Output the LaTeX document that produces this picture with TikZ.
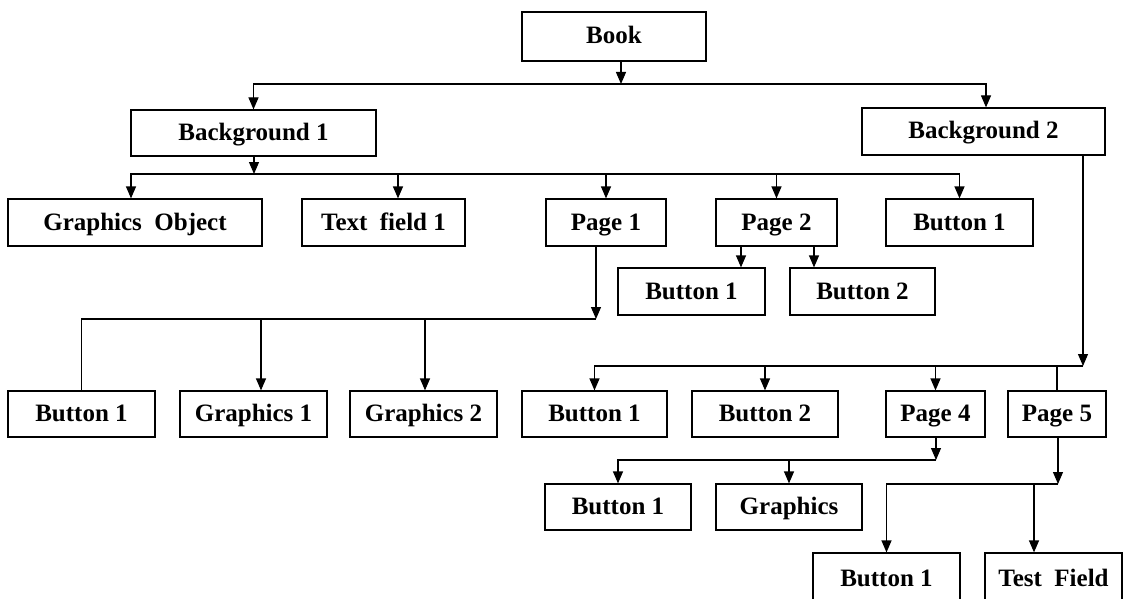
\documentclass[tikz,border=0pt]{standalone}
\usepackage{fontspec}
\setmainfont{Liberation Serif}
\usetikzlibrary{arrows.meta}
\begin{document}
\begin{tikzpicture}[x=1pt,y=-1pt,
  box/.style={draw, line width=1.2pt, inner sep=0pt, minimum height=46pt,
    text height=16pt, text depth=1pt,
    font=\fontsize{25}{28}\selectfont\bfseries},
  arr/.style={line width=1.2pt, -{Triangle[length=12pt,width=10pt]}},
  ln/.style={line width=1.2pt}]
\useasboundingbox (0,0) rectangle (1124,599);
% nodes
\node[box, minimum width=184pt, minimum height=49pt] (book) at (614,36.5) {Book};
\node[box, minimum width=245pt] (bg1) at (253.5,133) {Background 1};
\node[box, minimum width=243pt, minimum height=47pt] (bg2) at (983.5,131.5) {Background 2};
\node[box, minimum width=254pt, minimum height=47pt] (go) at (135,222.5) {Graphics\ \ Object};
\node[box, minimum width=163pt, minimum height=47pt] (tf1) at (383.5,222.5) {Text\ \ field 1};
\node[box, minimum width=120pt, minimum height=47pt] (p1) at (606,222.5) {Page 1};
\node[box, minimum width=121pt, minimum height=47pt] (p2) at (776.5,222.5) {Page 2};
\node[box, minimum width=147pt, minimum height=47pt] (bt1) at (959.5,222.5) {Button 1};
\node[box, minimum width=147pt, minimum height=47pt] (pb1) at (691.5,291.5) {Button 1};
\node[box, minimum width=145pt, minimum height=47pt] (pb2) at (862.5,291.5) {Button 2};
\node[box, minimum width=147pt] (b1a) at (81.5,414) {Button 1};
\node[box, minimum width=147pt] (g1) at (253.5,414) {Graphics 1};
\node[box, minimum width=147pt] (g2) at (423.5,414) {Graphics 2};
\node[box, minimum width=145pt] (b1b) at (594.5,414) {Button 1};
\node[box, minimum width=146pt] (b2b) at (765,414) {Button 2};
\node[box, minimum width=99pt] (p4) at (935.5,414) {Page 4};
\node[box, minimum width=98pt] (p5) at (1057,414) {Page 5};
\node[box, minimum width=146pt] (b1c) at (618,507) {Button 1};
\node[box, minimum width=146pt] (gr) at (789,507) {Graphics};
\node[box, minimum width=147pt, minimum height=52pt] (b1d) at (886.5,579) {Button 1};
\node[box, minimum width=137pt, minimum height=52pt] (tfd) at (1053.5,579) {Test\ \ Field};
% junctions
\coordinate (J1) at (621,84);
\coordinate (J2) at (254,174);
\coordinate (J3) at (596,319);
\coordinate (J4) at (1083,366);
\coordinate (J5) at (936,460);
\coordinate (J6) at (1058,484);
% Book
\draw[arr] (book.south -| J1) -- (J1);
\draw[arr] (J1) -| (bg1.north);
\draw[arr] (J1) -| ([xshift=2.5pt]bg2.north);
% Background 1
\draw[arr] (bg1.south -| J2) -- (J2);
\draw[arr] (J2) -| ([xshift=-4pt]go.north);
\draw[arr] ([xshift=14.5pt]tf1.north |- J2) -- ([xshift=14.5pt]tf1.north);
\draw[arr] (p1.north |- J2) -- (p1.north);
\draw[arr] (p2.north |- J2) -- (p2.north);
\draw[arr] (J2) -| (bt1.north);
% Page 2
\draw[arr] ([xshift=49.5pt]pb1.north |- p2.south) -- ([xshift=49.5pt]pb1.north);
\draw[arr] ([xshift=-48.5pt]pb2.north |- p2.south) -- ([xshift=-48.5pt]pb2.north);
% Page 1
\draw[arr] (p1.south -| J3) -- (J3);
\draw[ln] (J3) -| (b1a.north);
\draw[arr] ([xshift=7.5pt]g1.north |- J3) -- ([xshift=7.5pt]g1.north);
\draw[arr] ([xshift=1.5pt]g2.north |- J3) -- ([xshift=1.5pt]g2.north);
% Background 2
\draw[arr] (bg2.south -| J4) -- (J4);
\draw[arr] (J4) -| (b1b.north);
\draw[arr] (b2b.north |- J4) -- (b2b.north);
\draw[arr] (p4.north |- J4) -- (p4.north);
\draw[ln] (p5.north |- J4) -- (p5.north);
% Page 4
\draw[arr] (p4.south -| J5) -- (J5);
\draw[arr] (J5) -| (b1c.north);
\draw[arr] (gr.north |- J5) -- (gr.north);
% Page 5
\draw[arr] (p5.south -| J6) -- (J6);
\draw[arr] (J6) -| (b1d.north);
\draw[arr] ([xshift=-19.5pt]tfd.north |- J6) -- ([xshift=-19.5pt]tfd.north);
\end{tikzpicture}
\end{document}
